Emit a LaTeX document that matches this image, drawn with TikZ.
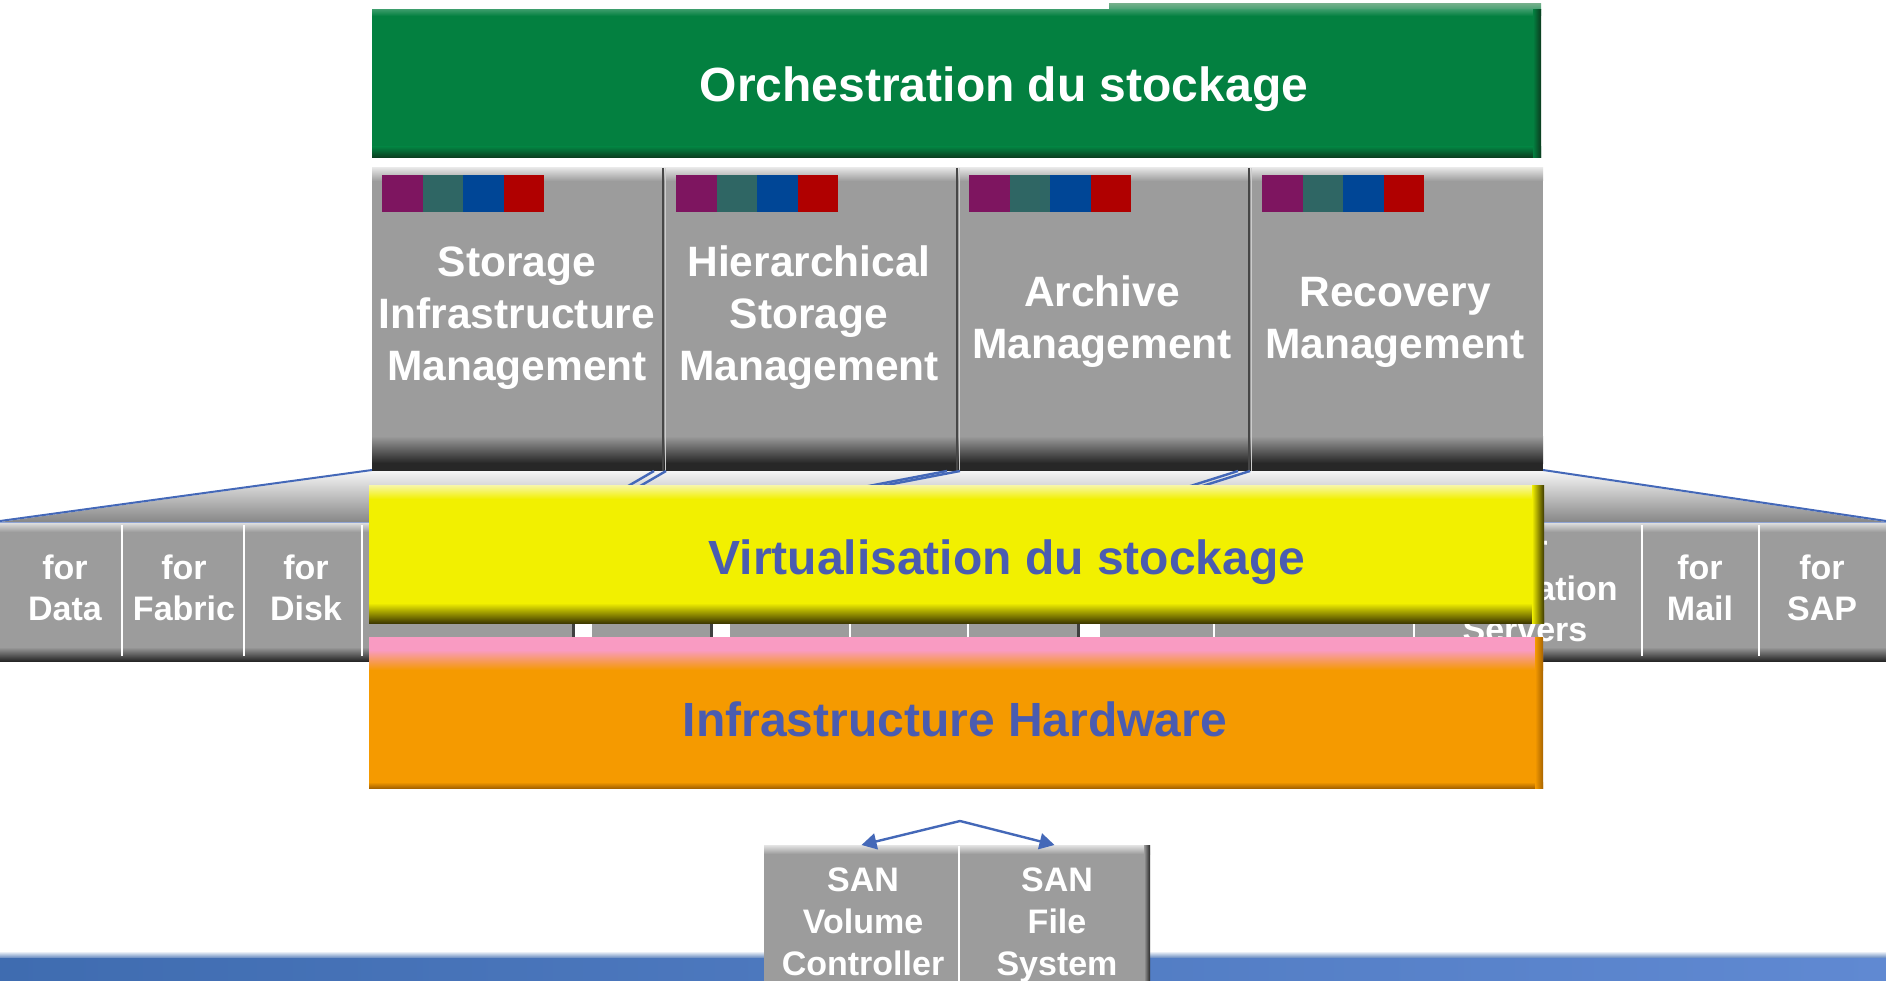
\documentclass[tikz,border=0pt]{standalone}
\usepackage{fontspec}
\setmainfont{Liberation Sans}
\usetikzlibrary{arrows.meta}
\definecolor{gbox}{HTML}{9C9C9C}
\definecolor{gdark}{HTML}{272727}
\definecolor{glight}{HTML}{E4E4E4}
\definecolor{orch}{HTML}{038040}
\definecolor{orchdark}{HTML}{0B3A1E}
\definecolor{orchlight}{HTML}{6FAE88}
\definecolor{virt}{HTML}{F2F000}
\definecolor{virtdark}{HTML}{3F3A00}
\definecolor{virtlight}{HTML}{F8F7A8}
\definecolor{infra}{HTML}{F59A00}
\definecolor{infrapink}{HTML}{F99BC2}
\definecolor{infradark}{HTML}{A86400}
\definecolor{txtblue}{HTML}{4A5CB0}
\definecolor{lnblue}{HTML}{4468B8}
\definecolor{sqpurple}{HTML}{7E1560}
\definecolor{sqteal}{HTML}{2F6664}
\definecolor{sqblue}{HTML}{004696}
\definecolor{sqred}{HTML}{B00000}
\definecolor{bandL}{HTML}{3F6CB0}
\definecolor{bandR}{HTML}{6089D2}
\definecolor{trapTop}{HTML}{F6F6F6}
\definecolor{trapBot}{HTML}{878787}
\tikzset{
  toplbl/.style={text=white, font=\fontsize{42.5}{52}\selectfont\bfseries, align=center, inner sep=0pt},
  rowlbl/.style={text=white, font=\fontsize{34}{41}\selectfont\bfseries, align=center, inner sep=0pt},
  sanlbl/.style={text=white, font=\fontsize{34}{42}\selectfont\bfseries, align=center, inner sep=0pt},
  biglbl/.style={font=\fontsize{48}{58}\selectfont\bfseries, inner sep=0pt},
  sanbox/.style={fill=gbox, draw=none, inner sep=0pt, outer sep=0pt, anchor=north west, minimum height=136pt},
  dbl/.style={draw=lnblue, line width=2.4pt},
  edge/.style={draw=lnblue, line width=2pt},
  arr/.style={draw=lnblue, line width=2.4pt, -{Triangle[length=15pt,width=16pt]}},
  sq/.style={draw=none}
}
\begin{document}
\begin{tikzpicture}[x=1pt,y=-1pt]
\useasboundingbox (0,0) rectangle (1886,981);
\fill[white] (0,0) rectangle (1886,981);

% bottom blue band
\shade[left color=bandL, right color=bandR] (0,954) rectangle (1886,981);
\shade[top color=white, bottom color=bandL!70!white] (0,951) rectangle (1886,957);

% funnel trapezoid
\shade[top color=trapTop, bottom color=trapBot] (0,522) -- (372,471) -- (1543,471) -- (1886,522) -- cycle;
\draw[edge] (0,521) -- (372,470);
\draw[edge] (1543,470) -- (1886,521);

% lower row of products
\fill[gbox] (0,522) rectangle (1886,661);
\shade[top color=glight, bottom color=gbox] (0,522) rectangle (1886,532);
\shade[top color=gbox, bottom color=gdark] (0,647) rectangle (1886,661);
\draw[lnblue!60, line width=1pt] (0,522) -- (1886,522);
\foreach \x in {122,244,362,850,968,1214,1414,1642,1759}
  \draw[white, line width=2pt] (\x,525) -- (\x,656);
\foreach \a/\b in {575/592,713/730,1080/1100}{
  \fill[white] (\a,521) rectangle (\b,662);
  \fill[gray!50!black] (\a-3,522) rectangle (\a,661);
}
\node[rowlbl] (tData) at (65,588) {for\\Data};
\node[rowlbl] (tFabric) at (184,588) {for\\Fabric};
\node[rowlbl] (tDisk) at (306,588) {for\\Disk};
\node[rowlbl] (tApp) at (1525,588) {for\\Application\\Servers};
\node[rowlbl] (tMail) at (1700,588) {for\\Mail};
\node[rowlbl] (tSAP) at (1822,588) {for\\SAP};

% gray management boxes
\fill[gbox] (372,168) rectangle (1543,471);
\shade[top color=glight, bottom color=gbox] (372,168) rectangle (1543,181);
\shade[top color=gbox, bottom color=gdark] (372,436) rectangle (1543,463);
\fill[gdark] (372,463) rectangle (1543,471);
\foreach \x in {663,957,1249}{
  \draw[gray!55!black, line width=1.5pt] (\x,168) -- (\x,471);
  \draw[gray!40, line width=1pt] (\x+2,168) -- (\x+2,471);
}
\foreach \c in {382,676,969,1262}{
  \fill[sqpurple] (\c,175) rectangle (\c+40.5,212);
  \fill[sqteal] (\c+40.5,175) rectangle (\c+81,212);
  \fill[sqblue] (\c+81,175) rectangle (\c+121.5,212);
  \fill[sqred] (\c+121.5,175) rectangle (\c+162,212);
}
\node[toplbl] (tSIM) at (517,318) {Storage\\Infrastructure\\Management};
\node[toplbl] (tHSM) at (809,318) {Hierarchical\\Storage\\Management};
\node[toplbl] (tAM) at (1102,322) {Archive\\Management};
\node[toplbl] (tRM) at (1395,322) {Recovery\\Management};

% double connector lines below the boxes
\draw[dbl] (666,471) -- (635,489);
\draw[dbl] (654,471) -- (623,489);
\draw[dbl] (960,471) -- (866,489);
\draw[dbl] (947,471) -- (853,489);
\draw[dbl] (1250,471) -- (1193,489);
\draw[dbl] (1238,471) -- (1181,489);

% orchestration box
\shade[top color=orchlight, bottom color=orch!75!white] (1109,4) rectangle (1541,10);
\fill[orch] (372,10) rectangle (1541,158);
\shade[top color=orch!80!white, bottom color=orch] (372,10) rectangle (1541,16);
\shade[top color=orch, bottom color=orchdark] (372,147) rectangle (1541,158);
\shade[left color=orch, right color=orchdark] (1533,10) rectangle (1541,158);
\node[biglbl, text=white] (tOrch) at (1004,89) {Orchestration du stockage};

% virtualisation box
\fill[virt] (369,485) rectangle (1544,623);
\shade[top color=virtlight, bottom color=virt] (369,485) rectangle (1544,499);
\shade[top color=virt, bottom color=virtdark] (369,603) rectangle (1544,623);
\shade[left color=virt, right color=virtdark] (1532,485) rectangle (1544,623);
\node[biglbl, text=txtblue] (tVirt) at (1007,562) {Virtualisation du stockage};

% infrastructure hardware box
\fill[infra] (369,637) rectangle (1543,788);
\fill[infrapink] (369,637) rectangle (1543,650);
\shade[top color=infrapink, bottom color=infra] (369,650) rectangle (1543,670);
\shade[top color=infra, bottom color=infradark] (369,782) rectangle (1543,788);
\shade[left color=infra, right color=infradark] (1535,637) rectangle (1543,788);
\node[biglbl, text=txtblue] (tInfra) at (955,719) {Infrastructure Hardware};

% SAN boxes
\node[sanbox, minimum width=195pt] (sanL) at (764,845) {};
\node[sanbox, minimum width=191pt] (sanR) at (959,845) {};
\shade[top color=glight, bottom color=gbox] (764,845) rectangle (1150,854);
\shade[left color=gbox, right color=gdark] (1144,845) rectangle (1150,981);
\draw[white, line width=2pt] (959,846) -- (959,981);
\node[sanlbl] (tSVC) at (863,922) {SAN\\Volume\\Controller};
\node[sanlbl] (tSFS) at (1057,925) {SAN\\File\\System};

% arrows
\coordinate (apex) at (960,821);
\draw[arr] (apex) -- (sanL.north);
\draw[arr] (apex) -- (sanR.north);
\end{tikzpicture}
\end{document}
